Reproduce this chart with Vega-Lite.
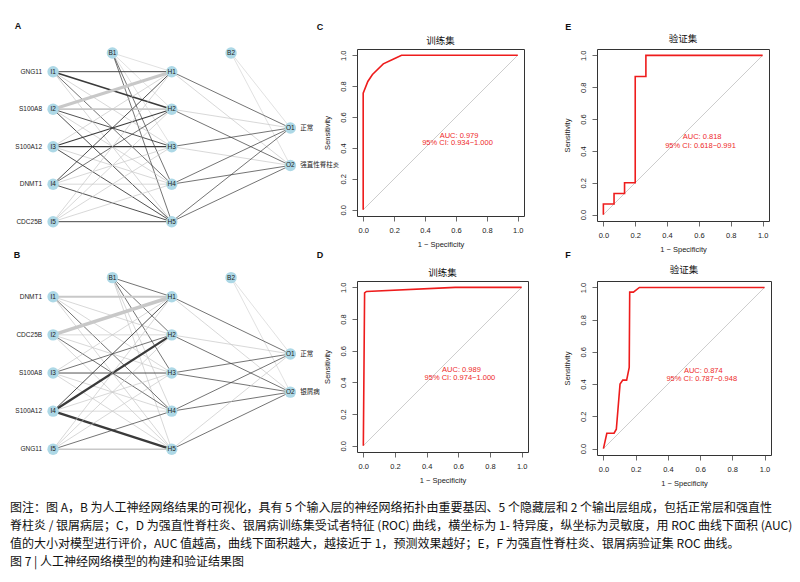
{
  "$schema": "https://vega.github.io/schema/vega-lite/v6.json",
  "padding": {"left": 8, "top": 22, "right": 2, "bottom": 2},
  "background": "white",
  "config": {
    "font": "Liberation Sans, Noto Sans CJK SC",
    "view": {"stroke": null},
    "axis": {"domain": false, "grid": false, "tickSize": 5, "tickColor": "#444", "tickWidth": 0.8, "labelFontSize": 7.5, "labelColor": "#222", "labelPadding": 5, "labelFlush": false, "labelOverlap": false, "titleFontSize": 7.5, "titleFontWeight": "normal", "titleColor": "#222", "titlePadding": 7},
    "axisY": {"labelAngle": 270, "labelAlign": "center", "labelBaseline": "bottom", "titlePadding": 8}
  },
  "datasets": {
    "nodes": [
      {"node": "I1", "layer": 1, "row": 1}, {"node": "I2", "layer": 1, "row": 2}, {"node": "I3", "layer": 1, "row": 3}, {"node": "I4", "layer": 1, "row": 4}, {"node": "I5", "layer": 1, "row": 5},
      {"node": "H1", "layer": 2, "row": 1}, {"node": "H2", "layer": 2, "row": 2}, {"node": "H3", "layer": 2, "row": 3}, {"node": "H4", "layer": 2, "row": 4}, {"node": "H5", "layer": 2, "row": 5},
      {"node": "O1", "layer": 3, "row": 2.5}, {"node": "O2", "layer": 3, "row": 3.5},
      {"node": "B1", "layer": 1.5, "row": 0.5}, {"node": "B2", "layer": 2.5, "row": 0.5}
    ],
    "labels": [
      {"panel": "A", "node": "I1", "label": "GNG11"}, {"panel": "A", "node": "I2", "label": "S100A8"}, {"panel": "A", "node": "I3", "label": "S100A12"}, {"panel": "A", "node": "I4", "label": "DNMT1"}, {"panel": "A", "node": "I5", "label": "CDC25B"},
      {"panel": "A", "node": "O1", "label": "正常"}, {"panel": "A", "node": "O2", "label": "强直性脊柱炎"},
      {"panel": "B", "node": "I1", "label": "DNMT1"}, {"panel": "B", "node": "I2", "label": "CDC25B"}, {"panel": "B", "node": "I3", "label": "S100A8"}, {"panel": "B", "node": "I4", "label": "S100A12"}, {"panel": "B", "node": "I5", "label": "GNG11"},
      {"panel": "B", "node": "O1", "label": "正常"}, {"panel": "B", "node": "O2", "label": "银屑病"}
    ],
    "edges": [
      {"panel": "A", "from": "B1", "to": "H1", "sign": "neg", "w": 0.1}, {"panel": "A", "from": "B1", "to": "H2", "sign": "neg", "w": 0.1}, {"panel": "A", "from": "B1", "to": "H3", "sign": "neg", "w": 0.1}, {"panel": "A", "from": "B1", "to": "H4", "sign": "pos", "w": 0.15}, {"panel": "A", "from": "B1", "to": "H5", "sign": "pos", "w": 0.15},
      {"panel": "A", "from": "I1", "to": "H1", "sign": "pos", "w": 0.22}, {"panel": "A", "from": "I1", "to": "H2", "sign": "pos", "w": 0.4}, {"panel": "A", "from": "I1", "to": "H3", "sign": "neg", "w": 0.15}, {"panel": "A", "from": "I1", "to": "H4", "sign": "pos", "w": 0.15}, {"panel": "A", "from": "I1", "to": "H5", "sign": "neg", "w": 0.15},
      {"panel": "A", "from": "I2", "to": "H1", "sign": "neg", "w": 0.85}, {"panel": "A", "from": "I2", "to": "H2", "sign": "neg", "w": 0.45}, {"panel": "A", "from": "I2", "to": "H3", "sign": "pos", "w": 0.2}, {"panel": "A", "from": "I2", "to": "H4", "sign": "neg", "w": 0.15}, {"panel": "A", "from": "I2", "to": "H5", "sign": "pos", "w": 0.2},
      {"panel": "A", "from": "I3", "to": "H1", "sign": "neg", "w": 0.15}, {"panel": "A", "from": "I3", "to": "H2", "sign": "pos", "w": 0.25}, {"panel": "A", "from": "I3", "to": "H3", "sign": "pos", "w": 0.3}, {"panel": "A", "from": "I3", "to": "H4", "sign": "neg", "w": 0.15}, {"panel": "A", "from": "I3", "to": "H5", "sign": "pos", "w": 0.2},
      {"panel": "A", "from": "I4", "to": "H1", "sign": "pos", "w": 0.2}, {"panel": "A", "from": "I4", "to": "H2", "sign": "pos", "w": 0.15}, {"panel": "A", "from": "I4", "to": "H3", "sign": "neg", "w": 0.15}, {"panel": "A", "from": "I4", "to": "H4", "sign": "neg", "w": 0.15}, {"panel": "A", "from": "I4", "to": "H5", "sign": "pos", "w": 0.2},
      {"panel": "A", "from": "I5", "to": "H1", "sign": "neg", "w": 0.15}, {"panel": "A", "from": "I5", "to": "H2", "sign": "neg", "w": 0.15}, {"panel": "A", "from": "I5", "to": "H3", "sign": "neg", "w": 0.15}, {"panel": "A", "from": "I5", "to": "H4", "sign": "neg", "w": 0.15}, {"panel": "A", "from": "I5", "to": "H5", "sign": "pos", "w": 0.22},
      {"panel": "A", "from": "B2", "to": "O1", "sign": "neg", "w": 0.1}, {"panel": "A", "from": "B2", "to": "O2", "sign": "neg", "w": 0.1},
      {"panel": "A", "from": "H1", "to": "O1", "sign": "pos", "w": 0.15}, {"panel": "A", "from": "H1", "to": "O2", "sign": "neg", "w": 0.15},
      {"panel": "A", "from": "H2", "to": "O1", "sign": "neg", "w": 0.15}, {"panel": "A", "from": "H2", "to": "O2", "sign": "pos", "w": 0.15},
      {"panel": "A", "from": "H3", "to": "O1", "sign": "pos", "w": 0.15}, {"panel": "A", "from": "H3", "to": "O2", "sign": "neg", "w": 0.15},
      {"panel": "A", "from": "H4", "to": "O1", "sign": "pos", "w": 0.15}, {"panel": "A", "from": "H4", "to": "O2", "sign": "pos", "w": 0.15},
      {"panel": "A", "from": "H5", "to": "O1", "sign": "pos", "w": 0.15}, {"panel": "A", "from": "H5", "to": "O2", "sign": "pos", "w": 0.15},
      {"panel": "B", "from": "B1", "to": "H1", "sign": "pos", "w": 0.15}, {"panel": "B", "from": "B1", "to": "H2", "sign": "pos", "w": 0.15}, {"panel": "B", "from": "B1", "to": "H3", "sign": "pos", "w": 0.15}, {"panel": "B", "from": "B1", "to": "H4", "sign": "neg", "w": 0.15}, {"panel": "B", "from": "B1", "to": "H5", "sign": "neg", "w": 0.15},
      {"panel": "B", "from": "I1", "to": "H1", "sign": "neg", "w": 0.55}, {"panel": "B", "from": "I1", "to": "H2", "sign": "neg", "w": 0.15}, {"panel": "B", "from": "I1", "to": "H3", "sign": "neg", "w": 0.15}, {"panel": "B", "from": "I1", "to": "H4", "sign": "pos", "w": 0.15}, {"panel": "B", "from": "I1", "to": "H5", "sign": "neg", "w": 0.15},
      {"panel": "B", "from": "I2", "to": "H1", "sign": "neg", "w": 1.0}, {"panel": "B", "from": "I2", "to": "H2", "sign": "neg", "w": 0.15}, {"panel": "B", "from": "I2", "to": "H3", "sign": "neg", "w": 0.15}, {"panel": "B", "from": "I2", "to": "H4", "sign": "pos", "w": 0.15}, {"panel": "B", "from": "I2", "to": "H5", "sign": "neg", "w": 0.15},
      {"panel": "B", "from": "I3", "to": "H1", "sign": "neg", "w": 0.15}, {"panel": "B", "from": "I3", "to": "H2", "sign": "pos", "w": 0.15}, {"panel": "B", "from": "I3", "to": "H3", "sign": "pos", "w": 0.2}, {"panel": "B", "from": "I3", "to": "H4", "sign": "neg", "w": 0.15}, {"panel": "B", "from": "I3", "to": "H5", "sign": "neg", "w": 0.15},
      {"panel": "B", "from": "I4", "to": "H1", "sign": "pos", "w": 0.2}, {"panel": "B", "from": "I4", "to": "H2", "sign": "pos", "w": 0.62}, {"panel": "B", "from": "I4", "to": "H3", "sign": "neg", "w": 0.15}, {"panel": "B", "from": "I4", "to": "H4", "sign": "neg", "w": 0.15}, {"panel": "B", "from": "I4", "to": "H5", "sign": "pos", "w": 0.62},
      {"panel": "B", "from": "I5", "to": "H1", "sign": "neg", "w": 0.15}, {"panel": "B", "from": "I5", "to": "H2", "sign": "neg", "w": 0.15}, {"panel": "B", "from": "I5", "to": "H3", "sign": "neg", "w": 0.15}, {"panel": "B", "from": "I5", "to": "H4", "sign": "pos", "w": 0.15}, {"panel": "B", "from": "I5", "to": "H5", "sign": "neg", "w": 0.4},
      {"panel": "B", "from": "B2", "to": "O1", "sign": "neg", "w": 0.1}, {"panel": "B", "from": "B2", "to": "O2", "sign": "neg", "w": 0.1},
      {"panel": "B", "from": "H1", "to": "O1", "sign": "pos", "w": 0.15}, {"panel": "B", "from": "H1", "to": "O2", "sign": "neg", "w": 0.15},
      {"panel": "B", "from": "H2", "to": "O1", "sign": "neg", "w": 0.15}, {"panel": "B", "from": "H2", "to": "O2", "sign": "pos", "w": 0.15},
      {"panel": "B", "from": "H3", "to": "O1", "sign": "pos", "w": 0.15}, {"panel": "B", "from": "H3", "to": "O2", "sign": "pos", "w": 0.15},
      {"panel": "B", "from": "H4", "to": "O1", "sign": "pos", "w": 0.15}, {"panel": "B", "from": "H4", "to": "O2", "sign": "pos", "w": 0.15},
      {"panel": "B", "from": "H5", "to": "O1", "sign": "neg", "w": 0.15}, {"panel": "B", "from": "H5", "to": "O2", "sign": "pos", "w": 0.15}
    ],
    "diag": [{"fpr": 0, "tpr": 0}, {"fpr": 1, "tpr": 1}],
    "roc": [
      {"panel": "C", "fpr": 0, "tpr": 0}, {"panel": "C", "fpr": 0, "tpr": 0.754}, {"panel": "C", "fpr": 0.03, "tpr": 0.83}, {"panel": "C", "fpr": 0.06, "tpr": 0.875}, {"panel": "C", "fpr": 0.13, "tpr": 0.944}, {"panel": "C", "fpr": 0.19, "tpr": 0.972}, {"panel": "C", "fpr": 0.248, "tpr": 1.0}, {"panel": "C", "fpr": 1, "tpr": 1},
      {"panel": "D", "fpr": 0, "tpr": 0}, {"panel": "D", "fpr": 0.008, "tpr": 0.965}, {"panel": "D", "fpr": 0.02, "tpr": 0.974}, {"panel": "D", "fpr": 0.58, "tpr": 1.0}, {"panel": "D", "fpr": 1, "tpr": 1},
      {"panel": "E", "fpr": 0, "tpr": 0}, {"panel": "E", "fpr": 0, "tpr": 0.067}, {"panel": "E", "fpr": 0.067, "tpr": 0.067}, {"panel": "E", "fpr": 0.067, "tpr": 0.133}, {"panel": "E", "fpr": 0.133, "tpr": 0.133}, {"panel": "E", "fpr": 0.133, "tpr": 0.2}, {"panel": "E", "fpr": 0.2, "tpr": 0.2}, {"panel": "E", "fpr": 0.2, "tpr": 0.867}, {"panel": "E", "fpr": 0.267, "tpr": 0.867}, {"panel": "E", "fpr": 0.267, "tpr": 1.0}, {"panel": "E", "fpr": 1, "tpr": 1},
      {"panel": "F", "fpr": 0, "tpr": 0}, {"panel": "F", "fpr": 0.021, "tpr": 0.095}, {"panel": "F", "fpr": 0.066, "tpr": 0.095}, {"panel": "F", "fpr": 0.08, "tpr": 0.12}, {"panel": "F", "fpr": 0.103, "tpr": 0.4}, {"panel": "F", "fpr": 0.12, "tpr": 0.425}, {"panel": "F", "fpr": 0.144, "tpr": 0.425}, {"panel": "F", "fpr": 0.16, "tpr": 0.503}, {"panel": "F", "fpr": 0.163, "tpr": 0.971}, {"panel": "F", "fpr": 0.186, "tpr": 0.971}, {"panel": "F", "fpr": 0.223, "tpr": 1.0}, {"panel": "F", "fpr": 1, "tpr": 1}
    ],
    "panels": [
      {"panel": "A", "letter": "A"}, {"panel": "B", "letter": "B"},
      {"panel": "C", "letter": "C", "title": "训练集", "auc": "AUC: 0.979", "ci": "95% CI: 0.934−1.000"},
      {"panel": "D", "letter": "D", "title": "训练集", "auc": "AUC: 0.989", "ci": "95% CI: 0.974−1.000"},
      {"panel": "E", "letter": "E", "title": "验证集", "auc": "AUC: 0.818", "ci": "95% CI: 0.618−0.991"},
      {"panel": "F", "letter": "F", "title": "验证集", "auc": "AUC: 0.874", "ci": "95% CI: 0.787−0.948"}
    ],
    "caption": [
      {"line": 1, "text": "图注：图 A，B 为人工神经网络结果的可视化，具有 5 个输入层的神经网络拓扑由重要基因、5 个隐藏层和 2 个输出层组成，包括正常层和强直性"},
      {"line": 2, "text": "脊柱炎 / 银屑病层；C，D 为强直性脊柱炎、银屑病训练集受试者特征 (ROC) 曲线，横坐标为 1- 特异度，纵坐标为灵敏度，用 ROC 曲线下面积 (AUC)"},
      {"line": 3, "text": "值的大小对模型进行评价，AUC 值越高，曲线下面积越大，越接近于 1，预测效果越好；E，F 为强直性脊柱炎、银屑病验证集 ROC 曲线。"},
      {"line": 4, "text": "图 7 | 人工神经网络模型的构建和验证结果图"}
    ]
  },
  "columns": 3,
  "align": "each",
  "bounds": "flush",
  "spacing": {"row": 60, "column": 69},
  "concat": [
    {
      "width": 280, "height": 160,
      "layer": [
        {
          "data": {"name": "edges"},
          "transform": [
            {"filter": "datum.panel === 'A'"},
            {"lookup": "from", "from": {"data": {"name": "nodes"}, "key": "node", "fields": ["layer", "row"]}, "as": ["fx", "fy"]},
            {"lookup": "to", "from": {"data": {"name": "nodes"}, "key": "node", "fields": ["layer", "row"]}, "as": ["tx", "ty"]}
          ],
          "mark": {"type": "rule"},
          "encoding": {
            "x": {"field": "fx", "type": "quantitative", "scale": {"domain": [0.62, 2.98], "nice": false, "zero": false}, "axis": null},
            "y": {"field": "fy", "type": "quantitative", "scale": {"domain": [0.395, 4.662], "reverse": true, "nice": false, "zero": false}, "axis": null},
            "x2": {"field": "tx"},
            "y2": {"field": "ty"},
            "color": {"field": "sign", "type": "nominal", "scale": {"domain": ["neg", "pos"], "range": ["#c8c8c8", "#3a3a3a"]}, "legend": null},
            "strokeWidth": {"field": "w", "type": "quantitative", "scale": {"domain": [0, 1], "range": [0.2, 3.6]}, "legend": null}
          }
        },
        {
          "data": {"name": "nodes"},
          "mark": {"type": "circle", "size": 130, "opacity": 1, "color": "#add8e6"},
          "encoding": {
            "x": {"field": "layer", "type": "quantitative", "scale": {"domain": [0.62, 2.98], "nice": false, "zero": false}, "axis": null},
            "y": {"field": "row", "type": "quantitative", "scale": {"domain": [0.395, 4.662], "reverse": true, "nice": false, "zero": false}, "axis": null}
          }
        },
        {
          "data": {"name": "nodes"},
          "mark": {"type": "text", "fontSize": 6.5, "color": "#222"},
          "encoding": {
            "x": {"field": "layer", "type": "quantitative", "scale": {"domain": [0.62, 2.98], "nice": false, "zero": false}, "axis": null},
            "y": {"field": "row", "type": "quantitative", "scale": {"domain": [0.395, 4.662], "reverse": true, "nice": false, "zero": false}, "axis": null},
            "text": {"field": "node"}
          }
        },
        {
          "data": {"name": "labels"},
          "transform": [
            {"filter": "datum.panel === 'A' && test(/^I/, datum.node)"},
            {"lookup": "node", "from": {"data": {"name": "nodes"}, "key": "node", "fields": ["layer", "row"]}}
          ],
          "mark": {"type": "text", "align": "right", "dx": -11, "fontSize": 6.5, "color": "#222"},
          "encoding": {
            "x": {"field": "layer", "type": "quantitative", "scale": {"domain": [0.62, 2.98], "nice": false, "zero": false}, "axis": null},
            "y": {"field": "row", "type": "quantitative", "scale": {"domain": [0.395, 4.662], "reverse": true, "nice": false, "zero": false}, "axis": null},
            "text": {"field": "label"}
          }
        },
        {
          "data": {"name": "labels"},
          "transform": [
            {"filter": "datum.panel === 'A' && test(/^O/, datum.node)"},
            {"lookup": "node", "from": {"data": {"name": "nodes"}, "key": "node", "fields": ["layer", "row"]}}
          ],
          "mark": {"type": "text", "align": "left", "dx": 10, "fontSize": 6.5, "color": "#222"},
          "encoding": {
            "x": {"field": "layer", "type": "quantitative", "scale": {"domain": [0.62, 2.98], "nice": false, "zero": false}, "axis": null},
            "y": {"field": "row", "type": "quantitative", "scale": {"domain": [0.395, 4.662], "reverse": true, "nice": false, "zero": false}, "axis": null},
            "text": {"field": "label"}
          }
        },
        {
          "data": {"name": "panels"},
          "transform": [{"filter": "datum.panel === 'A'"}],
          "mark": {"type": "text", "fontSize": 9, "fontWeight": "bold", "color": "#111"},
          "encoding": {
            "x": {"datum": 0.704, "type": "quantitative", "scale": {"domain": [0.62, 2.98], "nice": false, "zero": false}, "axis": null},
            "y": {"datum": -0.218, "type": "quantitative", "scale": {"domain": [0.395, 4.662], "reverse": true, "nice": false, "zero": false}, "axis": null},
            "text": {"field": "letter"}
          }
        }
      ]
    },
    {
      "width": 167, "height": 167,
      "view": {"stroke": "#333", "strokeWidth": 1},
      "encoding": {
        "x": {"type": "quantitative", "scale": {"domain": [-0.04, 1.04], "nice": false, "zero": false}, "axis": {"values": [0, 0.2, 0.4, 0.6, 0.8, 1], "format": ".1f", "title": "1 − Specificity"}},
        "y": {"type": "quantitative", "scale": {"domain": [-0.04, 1.04], "nice": false, "zero": false}, "axis": {"values": [0, 0.2, 0.4, 0.6, 0.8, 1], "format": ".1f", "title": "Sensitivity"}}
      },
      "layer": [
        {
          "data": {"name": "diag"},
          "mark": {"type": "line", "color": "#c0c0c0", "strokeWidth": 0.8},
          "encoding": {
            "x": {"field": "fpr", "type": "quantitative", "scale": {"domain": [-0.04, 1.04], "nice": false, "zero": false}, "axis": {"values": [0, 0.2, 0.4, 0.6, 0.8, 1], "format": ".1f", "title": "1 − Specificity"}},
            "y": {"field": "tpr", "type": "quantitative", "scale": {"domain": [-0.04, 1.04], "nice": false, "zero": false}, "axis": {"values": [0, 0.2, 0.4, 0.6, 0.8, 1], "format": ".1f", "title": "Sensitivity"}}
          }
        },
        {
          "data": {"name": "roc"},
          "transform": [{"filter": "datum.panel === 'C'"}],
          "mark": {"type": "line", "color": "#ee1c1c", "strokeWidth": 1.6},
          "encoding": {
            "x": {"field": "fpr", "type": "quantitative", "scale": {"domain": [-0.04, 1.04], "nice": false, "zero": false}, "axis": {"values": [0, 0.2, 0.4, 0.6, 0.8, 1], "format": ".1f", "title": "1 − Specificity"}},
            "y": {"field": "tpr", "type": "quantitative", "scale": {"domain": [-0.04, 1.04], "nice": false, "zero": false}, "axis": {"values": [0, 0.2, 0.4, 0.6, 0.8, 1], "format": ".1f", "title": "Sensitivity"}},
            "order": {"value": null}
          }
        },
        {
          "data": {"name": "panels"},
          "transform": [{"filter": "datum.panel === 'C'"}],
          "layer": [
            {"mark": {"type": "text", "color": "#ee2a2a", "fontSize": 7.5},
             "encoding": {"x": {"datum": 0.62}, "y": {"datum": 0.48}, "text": {"field": "auc"}}},
            {"mark": {"type": "text", "color": "#ee2a2a", "fontSize": 7.5},
             "encoding": {"x": {"datum": 0.61}, "y": {"datum": 0.43}, "text": {"field": "ci"}}},
            {"mark": {"type": "text", "color": "#111", "fontSize": 9.5, "font": "Noto Sans CJK SC"},
             "encoding": {"x": {"datum": 0.5}, "y": {"datum": 1.092}, "text": {"field": "title"}}},
            {"mark": {"type": "text", "color": "#111", "fontSize": 9, "fontWeight": "bold"},
             "encoding": {"x": {"datum": -0.279}, "y": {"datum": 1.182}, "text": {"field": "letter"}}}
          ]
        }
      ]
    },
    {
      "width": 172, "height": 172,
      "view": {"stroke": "#333", "strokeWidth": 1},
      "encoding": {
        "x": {"type": "quantitative", "scale": {"domain": [-0.04, 1.04], "nice": false, "zero": false}, "axis": {"values": [0, 0.2, 0.4, 0.6, 0.8, 1], "format": ".1f", "title": "1 − Specificity"}},
        "y": {"type": "quantitative", "scale": {"domain": [-0.04, 1.04], "nice": false, "zero": false}, "axis": {"values": [0, 0.2, 0.4, 0.6, 0.8, 1], "format": ".1f", "title": "Sensitivity"}}
      },
      "layer": [
        {
          "data": {"name": "diag"},
          "mark": {"type": "line", "color": "#c0c0c0", "strokeWidth": 0.8},
          "encoding": {
            "x": {"field": "fpr", "type": "quantitative", "scale": {"domain": [-0.04, 1.04], "nice": false, "zero": false}, "axis": {"values": [0, 0.2, 0.4, 0.6, 0.8, 1], "format": ".1f", "title": "1 − Specificity"}},
            "y": {"field": "tpr", "type": "quantitative", "scale": {"domain": [-0.04, 1.04], "nice": false, "zero": false}, "axis": {"values": [0, 0.2, 0.4, 0.6, 0.8, 1], "format": ".1f", "title": "Sensitivity"}}
          }
        },
        {
          "data": {"name": "roc"},
          "transform": [{"filter": "datum.panel === 'E'"}],
          "mark": {"type": "line", "color": "#ee1c1c", "strokeWidth": 1.6},
          "encoding": {
            "x": {"field": "fpr", "type": "quantitative", "scale": {"domain": [-0.04, 1.04], "nice": false, "zero": false}, "axis": {"values": [0, 0.2, 0.4, 0.6, 0.8, 1], "format": ".1f", "title": "1 − Specificity"}},
            "y": {"field": "tpr", "type": "quantitative", "scale": {"domain": [-0.04, 1.04], "nice": false, "zero": false}, "axis": {"values": [0, 0.2, 0.4, 0.6, 0.8, 1], "format": ".1f", "title": "Sensitivity"}},
            "order": {"value": null}
          }
        },
        {
          "data": {"name": "panels"},
          "transform": [{"filter": "datum.panel === 'E'"}],
          "layer": [
            {"mark": {"type": "text", "color": "#ee2a2a", "fontSize": 7.5},
             "encoding": {"x": {"datum": 0.62}, "y": {"datum": 0.486}, "text": {"field": "auc"}}},
            {"mark": {"type": "text", "color": "#ee2a2a", "fontSize": 7.5},
             "encoding": {"x": {"datum": 0.61}, "y": {"datum": 0.43}, "text": {"field": "ci"}}},
            {"mark": {"type": "text", "color": "#111", "fontSize": 9.5, "font": "Noto Sans CJK SC"},
             "encoding": {"x": {"datum": 0.5}, "y": {"datum": 1.10}, "text": {"field": "title"}}},
            {"mark": {"type": "text", "color": "#111", "fontSize": 9, "fontWeight": "bold"},
             "encoding": {"x": {"datum": -0.22}, "y": {"datum": 1.178}, "text": {"field": "letter"}}}
          ]
        }
      ]
    },
    {
      "width": 280, "height": 170,
      "layer": [
        {
          "data": {"name": "edges"},
          "transform": [
            {"filter": "datum.panel === 'B'"},
            {"lookup": "from", "from": {"data": {"name": "nodes"}, "key": "node", "fields": ["layer", "row"]}, "as": ["fx", "fy"]},
            {"lookup": "to", "from": {"data": {"name": "nodes"}, "key": "node", "fields": ["layer", "row"]}, "as": ["tx", "ty"]}
          ],
          "mark": {"type": "rule"},
          "encoding": {
            "x": {"field": "fx", "type": "quantitative", "scale": {"domain": [0.62, 2.98], "nice": false, "zero": false}, "axis": null},
            "y": {"field": "fy", "type": "quantitative", "scale": {"domain": [0.588, 5.044], "reverse": true, "nice": false, "zero": false}, "axis": null},
            "x2": {"field": "tx"},
            "y2": {"field": "ty"},
            "color": {"field": "sign", "type": "nominal", "scale": {"domain": ["neg", "pos"], "range": ["#c8c8c8", "#3a3a3a"]}, "legend": null},
            "strokeWidth": {"field": "w", "type": "quantitative", "scale": {"domain": [0, 1], "range": [0.2, 3.6]}, "legend": null}
          }
        },
        {
          "data": {"name": "nodes"},
          "mark": {"type": "circle", "size": 130, "opacity": 1, "color": "#add8e6"},
          "encoding": {
            "x": {"field": "layer", "type": "quantitative", "scale": {"domain": [0.62, 2.98], "nice": false, "zero": false}, "axis": null},
            "y": {"field": "row", "type": "quantitative", "scale": {"domain": [0.588, 5.044], "reverse": true, "nice": false, "zero": false}, "axis": null}
          }
        },
        {
          "data": {"name": "nodes"},
          "mark": {"type": "text", "fontSize": 6.5, "color": "#222"},
          "encoding": {
            "x": {"field": "layer", "type": "quantitative", "scale": {"domain": [0.62, 2.98], "nice": false, "zero": false}, "axis": null},
            "y": {"field": "row", "type": "quantitative", "scale": {"domain": [0.588, 5.044], "reverse": true, "nice": false, "zero": false}, "axis": null},
            "text": {"field": "node"}
          }
        },
        {
          "data": {"name": "labels"},
          "transform": [
            {"filter": "datum.panel === 'B' && test(/^I/, datum.node)"},
            {"lookup": "node", "from": {"data": {"name": "nodes"}, "key": "node", "fields": ["layer", "row"]}}
          ],
          "mark": {"type": "text", "align": "right", "dx": -11, "fontSize": 6.5, "color": "#222"},
          "encoding": {
            "x": {"field": "layer", "type": "quantitative", "scale": {"domain": [0.62, 2.98], "nice": false, "zero": false}, "axis": null},
            "y": {"field": "row", "type": "quantitative", "scale": {"domain": [0.588, 5.044], "reverse": true, "nice": false, "zero": false}, "axis": null},
            "text": {"field": "label"}
          }
        },
        {
          "data": {"name": "labels"},
          "transform": [
            {"filter": "datum.panel === 'B' && test(/^O/, datum.node)"},
            {"lookup": "node", "from": {"data": {"name": "nodes"}, "key": "node", "fields": ["layer", "row"]}}
          ],
          "mark": {"type": "text", "align": "left", "dx": 10, "fontSize": 6.5, "color": "#222"},
          "encoding": {
            "x": {"field": "layer", "type": "quantitative", "scale": {"domain": [0.62, 2.98], "nice": false, "zero": false}, "axis": null},
            "y": {"field": "row", "type": "quantitative", "scale": {"domain": [0.588, 5.044], "reverse": true, "nice": false, "zero": false}, "axis": null},
            "text": {"field": "label"}
          }
        },
        {
          "data": {"name": "panels"},
          "transform": [{"filter": "datum.panel === 'B'"}],
          "mark": {"type": "text", "fontSize": 9, "fontWeight": "bold", "color": "#111"},
          "encoding": {
            "x": {"datum": 0.696, "type": "quantitative", "scale": {"domain": [0.62, 2.98], "nice": false, "zero": false}, "axis": null},
            "y": {"datum": -0.093, "type": "quantitative", "scale": {"domain": [0.588, 5.044], "reverse": true, "nice": false, "zero": false}, "axis": null},
            "text": {"field": "letter"}
          }
        }
      ]
    },
    {
      "width": 171, "height": 171,
      "view": {"stroke": "#333", "strokeWidth": 1},
      "encoding": {
        "x": {"type": "quantitative", "scale": {"domain": [-0.04, 1.04], "nice": false, "zero": false}, "axis": {"values": [0, 0.2, 0.4, 0.6, 0.8, 1], "format": ".1f", "title": "1 − Specificity"}},
        "y": {"type": "quantitative", "scale": {"domain": [-0.04, 1.04], "nice": false, "zero": false}, "axis": {"values": [0, 0.2, 0.4, 0.6, 0.8, 1], "format": ".1f", "title": "Sensitivity"}}
      },
      "layer": [
        {
          "data": {"name": "diag"},
          "mark": {"type": "line", "color": "#c0c0c0", "strokeWidth": 0.8},
          "encoding": {
            "x": {"field": "fpr", "type": "quantitative", "scale": {"domain": [-0.04, 1.04], "nice": false, "zero": false}, "axis": {"values": [0, 0.2, 0.4, 0.6, 0.8, 1], "format": ".1f", "title": "1 − Specificity"}},
            "y": {"field": "tpr", "type": "quantitative", "scale": {"domain": [-0.04, 1.04], "nice": false, "zero": false}, "axis": {"values": [0, 0.2, 0.4, 0.6, 0.8, 1], "format": ".1f", "title": "Sensitivity"}}
          }
        },
        {
          "data": {"name": "roc"},
          "transform": [{"filter": "datum.panel === 'D'"}],
          "mark": {"type": "line", "color": "#ee1c1c", "strokeWidth": 1.6},
          "encoding": {
            "x": {"field": "fpr", "type": "quantitative", "scale": {"domain": [-0.04, 1.04], "nice": false, "zero": false}, "axis": {"values": [0, 0.2, 0.4, 0.6, 0.8, 1], "format": ".1f", "title": "1 − Specificity"}},
            "y": {"field": "tpr", "type": "quantitative", "scale": {"domain": [-0.04, 1.04], "nice": false, "zero": false}, "axis": {"values": [0, 0.2, 0.4, 0.6, 0.8, 1], "format": ".1f", "title": "Sensitivity"}},
            "order": {"value": null}
          }
        },
        {
          "data": {"name": "panels"},
          "transform": [{"filter": "datum.panel === 'D'"}],
          "layer": [
            {"mark": {"type": "text", "color": "#ee2a2a", "fontSize": 7.5},
             "encoding": {"x": {"datum": 0.62}, "y": {"datum": 0.48}, "text": {"field": "auc"}}},
            {"mark": {"type": "text", "color": "#ee2a2a", "fontSize": 7.5},
             "encoding": {"x": {"datum": 0.61}, "y": {"datum": 0.427}, "text": {"field": "ci"}}},
            {"mark": {"type": "text", "color": "#111", "fontSize": 9.5, "font": "Noto Sans CJK SC"},
             "encoding": {"x": {"datum": 0.5}, "y": {"datum": 1.092}, "text": {"field": "title"}}},
            {"mark": {"type": "text", "color": "#111", "fontSize": 9, "fontWeight": "bold"},
             "encoding": {"x": {"datum": -0.274}, "y": {"datum": 1.204}, "text": {"field": "letter"}}}
          ]
        }
      ]
    },
    {
      "width": 174, "height": 174,
      "view": {"stroke": "#333", "strokeWidth": 1},
      "encoding": {
        "x": {"type": "quantitative", "scale": {"domain": [-0.04, 1.04], "nice": false, "zero": false}, "axis": {"values": [0, 0.2, 0.4, 0.6, 0.8, 1], "format": ".1f", "title": "1 − Specificity"}},
        "y": {"type": "quantitative", "scale": {"domain": [-0.04, 1.04], "nice": false, "zero": false}, "axis": {"values": [0, 0.2, 0.4, 0.6, 0.8, 1], "format": ".1f", "title": "Sensitivity"}}
      },
      "layer": [
        {
          "data": {"name": "diag"},
          "mark": {"type": "line", "color": "#c0c0c0", "strokeWidth": 0.8},
          "encoding": {
            "x": {"field": "fpr", "type": "quantitative", "scale": {"domain": [-0.04, 1.04], "nice": false, "zero": false}, "axis": {"values": [0, 0.2, 0.4, 0.6, 0.8, 1], "format": ".1f", "title": "1 − Specificity"}},
            "y": {"field": "tpr", "type": "quantitative", "scale": {"domain": [-0.04, 1.04], "nice": false, "zero": false}, "axis": {"values": [0, 0.2, 0.4, 0.6, 0.8, 1], "format": ".1f", "title": "Sensitivity"}}
          }
        },
        {
          "data": {"name": "roc"},
          "transform": [{"filter": "datum.panel === 'F'"}],
          "mark": {"type": "line", "color": "#ee1c1c", "strokeWidth": 1.6},
          "encoding": {
            "x": {"field": "fpr", "type": "quantitative", "scale": {"domain": [-0.04, 1.04], "nice": false, "zero": false}, "axis": {"values": [0, 0.2, 0.4, 0.6, 0.8, 1], "format": ".1f", "title": "1 − Specificity"}},
            "y": {"field": "tpr", "type": "quantitative", "scale": {"domain": [-0.04, 1.04], "nice": false, "zero": false}, "axis": {"values": [0, 0.2, 0.4, 0.6, 0.8, 1], "format": ".1f", "title": "Sensitivity"}},
            "order": {"value": null}
          }
        },
        {
          "data": {"name": "panels"},
          "transform": [{"filter": "datum.panel === 'F'"}],
          "layer": [
            {"mark": {"type": "text", "color": "#ee2a2a", "fontSize": 7.5},
             "encoding": {"x": {"datum": 0.62}, "y": {"datum": 0.483}, "text": {"field": "auc"}}},
            {"mark": {"type": "text", "color": "#ee2a2a", "fontSize": 7.5},
             "encoding": {"x": {"datum": 0.61}, "y": {"datum": 0.43}, "text": {"field": "ci"}}},
            {"mark": {"type": "text", "color": "#111", "fontSize": 9.5, "font": "Noto Sans CJK SC"},
             "encoding": {"x": {"datum": 0.5}, "y": {"datum": 1.11}, "text": {"field": "title"}}},
            {"mark": {"type": "text", "color": "#111", "fontSize": 9, "fontWeight": "bold"},
             "encoding": {"x": {"datum": -0.22}, "y": {"datum": 1.201}, "text": {"field": "letter"}}}
          ]
        }
      ]
    },
    {
      "width": 280, "height": 54,
      "data": {"name": "caption"},
      "mark": {"type": "text", "align": "left", "baseline": "middle", "fontSize": 12, "font": "Noto Sans CJK SC", "color": "#111", "dx": 2},
      "encoding": {
        "x": {"datum": 0, "type": "quantitative", "scale": {"domain": [0, 1]}, "axis": null},
        "y": {"field": "line", "type": "quantitative", "scale": {"domain": [1.389, 4.389], "reverse": true, "nice": false, "zero": false}, "axis": null},
        "text": {"field": "text"}
      }
    }
  ]
}
